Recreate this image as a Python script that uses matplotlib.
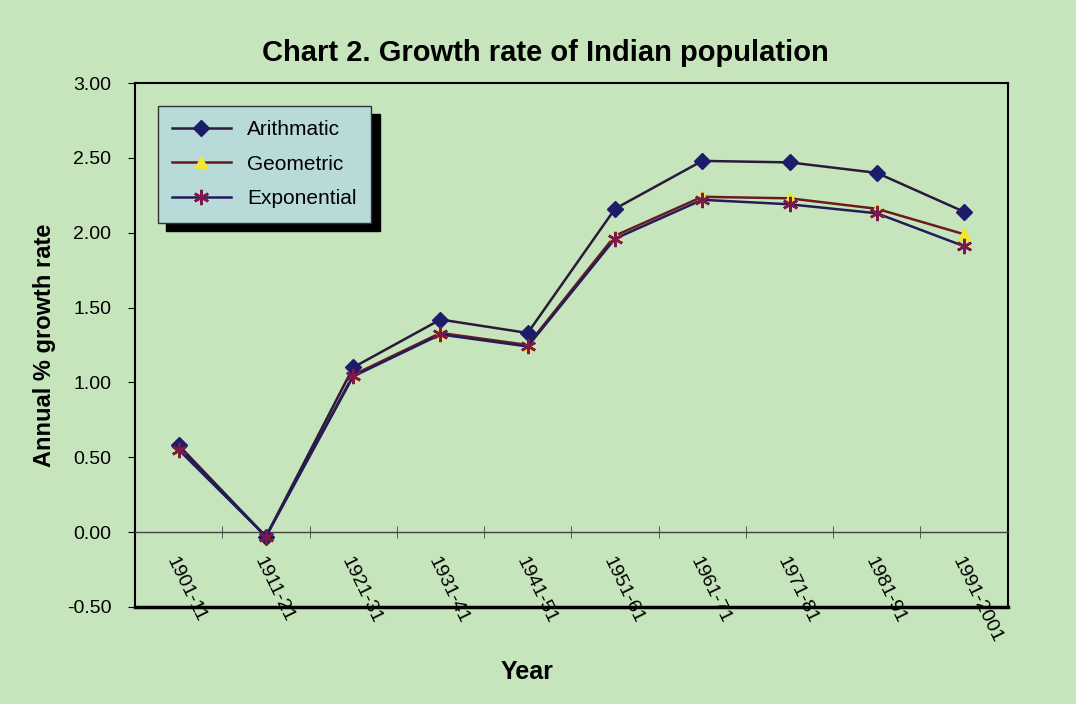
import matplotlib.pyplot as plt
import numpy as np

# decades and annual % growth rates
periods = ['1901-11', '1911-21', '1921-31', '1931-41', '1941-51',
           '1951-61', '1961-71', '1971-81', '1981-91', '1991-2001']
arithmetic = [0.58, -0.03, 1.10, 1.42, 1.33, 2.16, 2.48, 2.47, 2.40, 2.14]
geometric = [0.56, -0.03, 1.05, 1.33, 1.25, 1.98, 2.24, 2.23, 2.16, 1.99]
exponential = [0.55, -0.03, 1.04, 1.32, 1.24, 1.96, 2.22, 2.19, 2.13, 1.91]

bg = '#c6e5bd'
plt.rcParams['font.family'] = ['Liberation Sans', 'DejaVu Sans']

fig = plt.figure(figsize=(10.76, 7.04), dpi=100, facecolor=bg)
ax = fig.add_axes([0.1255, 0.138, 0.811, 0.744])
ax.set_facecolor(bg)

x = np.arange(len(periods))
ax.plot(x, arithmetic, color='#2a1a3a', lw=1.8, marker='D', ms=8,
        mfc='#1c1c6a', mec='#1c1c6a', label='Arithmatic', zorder=4)
ax.plot(x, geometric, color='#6a1c1c', lw=1.8, marker='^', ms=8,
        mfc='#f0e830', mec='#f0e830', label='Geometric', zorder=3)
ax.plot(x, exponential, color='#241c5a', lw=1.8, marker=(6, 2, 0), ms=11,
        mec='#7a1a4a', mew=1.8, label='Exponential', zorder=5)

ax.set_xlim(-0.5, len(periods) - 0.5)
ax.set_ylim(-0.5, 3.0)
ax.set_yticks(np.arange(-0.5, 3.01, 0.5))
ax.set_yticklabels([f'{v:.2f}' for v in np.arange(-0.5, 3.01, 0.5)])
ax.tick_params(axis='y', labelsize=14, length=5, direction='out', pad=12)

# category axis crosses at zero
ax.spines['bottom'].set_position(('data', 0))
ax.spines['bottom'].set_color('#444444')
ax.spines['bottom'].set_linewidth(1.0)
ax.set_xticks(x)
ax.set_xticklabels(periods, rotation=-64, ha='left', va='top',
                   rotation_mode='anchor', fontsize=14)
ax.set_xticks(x[:-1] + 0.5, minor=True)
ax.tick_params(axis='x', which='major', length=0, pad=16)
ax.tick_params(axis='x', which='minor', length=8, direction='inout', color='#444444')
ax.axhline(-0.5, color='black', lw=2.5, clip_on=False, zorder=1)
for s in ['left', 'top', 'right']:
    ax.spines[s].set_linewidth(1.5)

ax.set_title('Chart 2. Growth rate of Indian population', fontsize=21,
             fontweight='bold', pad=16, x=0.47)
ax.set_ylabel('Annual % growth rate', fontsize=17, fontweight='bold', labelpad=8)
fig.text(0.49, 0.035, 'Year', fontsize=18, fontweight='bold', ha='center')

leg = ax.legend(loc='upper left', bbox_to_anchor=(0.014, 0.977), fontsize=15,
                fancybox=False, shadow={'color': 'black', 'alpha': 1, 'ox': 6, 'oy': -6},
                facecolor='#b8dbd9', edgecolor='#333333', framealpha=1,
                borderpad=0.7, labelspacing=0.75, handlelength=2.8)

fig.savefig('out.png', dpi=100, facecolor=bg)
